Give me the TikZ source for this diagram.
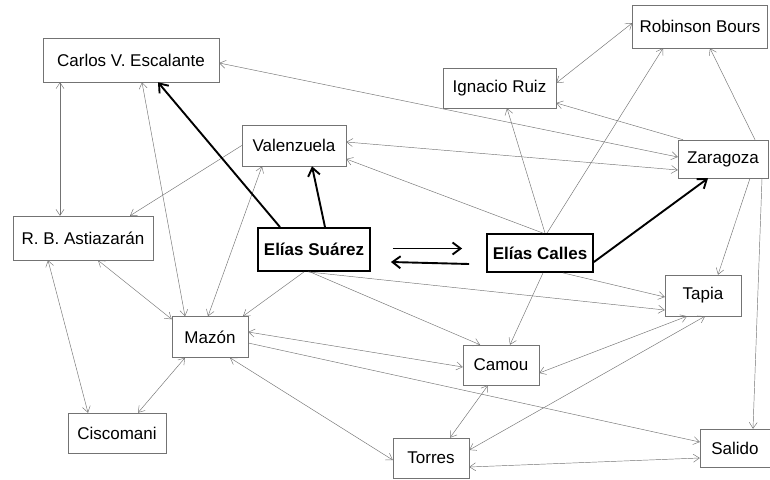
\documentclass[tikz,border=0pt]{standalone}
\usepackage{fontspec}
\setmainfont{Liberation Sans}
\usetikzlibrary{arrows.meta,calc}
\begin{document}
\begin{tikzpicture}[x=1pt,y=-1pt,
  person/.style={draw=black!55,line width=0.5pt,inner sep=0pt,minimum height=41pt,font=\fontsize{17}{19}\selectfont,text=black},
  leader/.style={draw=black,line width=1.8pt,inner sep=0pt,minimum height=41pt,font=\fontsize{17}{19}\selectfont\bfseries},
  link/.style={draw=black!55,line width=0.45pt,-{Straight Barb[length=6pt,width=8pt]}},
  blink/.style={draw=black!55,line width=0.45pt,{Straight Barb[length=6pt,width=8pt]}-{Straight Barb[length=6pt,width=8pt]}},
  power/.style={draw=black,line width=1.9pt,-{Straight Barb[length=8pt,width=12pt,line width=1.9pt]}}]
\useasboundingbox[fill=white] (0,0) rectangle (770,479);

\node[person,minimum width=176pt,minimum height=44pt] (carlos) at (131,60) {Carlos V. Escalante};
\node[person,minimum width=104pt] (val) at (294,145.5) {Valenzuela};
\node[person,minimum width=140pt,minimum height=44pt] (ast) at (83,238) {R. B. Astiazarán};
\node[leader,minimum width=112pt,minimum height=43pt] (es) at (314,249.5) {Elías Suárez};
\node[leader,minimum width=106pt,minimum height=38pt] (ec) at (540,253) {Elías Calles};
\node[person,minimum width=135pt,minimum height=43pt] (rb) at (700,26.5) {Robinson Bours};
\node[person,minimum width=113pt,minimum height=40pt] (ir) at (499.5,88) {Ignacio Ruiz};
\node[person,minimum width=90pt,minimum height=38pt] (zar) at (723,159) {Zaragoza};
\node[person,minimum width=76pt] (tapia) at (703,295.5) {Tapia};
\node[person,minimum width=76pt,minimum height=40pt] (camou) at (501,365) {Camou};
\node[person,minimum width=76pt,minimum height=40pt] (torres) at (431,458) {Torres};
\node[person,minimum width=70pt,minimum height=38pt] (salido) at (735,448) {Salido};
\node[person,minimum width=76pt] (mazon) at (210,337) {Mazón};
\node[person,minimum width=98pt,minimum height=40pt] (cisc) at (117,433) {Ciscomani};

% thin links
\draw[blink] ($(carlos.south)+(-71,0)$) -- ($(ast.north)+(-23,0)$);
\draw[blink] ($(carlos.south)+(11,0)$) -- ($(mazon.north)+(-25,0)$);
\draw[blink] ($(carlos.east)+(0,3)$) -- ($(zar.west)+(0,-2)$);
\draw[blink] ($(val.east)+(0,-3.5)$) -- ($(zar.west)+(0,11)$);
\draw[link] ($(ec.north)+(3,0)$) -- ($(val.east)+(0,13.5)$);
\draw[link] ($(zar.north)+(-40,0)$) -- ($(ir.east)+(0,15)$);
\draw[blink] ($(ir.east)+(0,-5)$) -- ($(rb.west)+(0,-3.5)$);
\draw[link] ($(zar.north)+(32,0)$) -- ($(rb.south)+(10,0)$);
\draw[link] ($(ec.north)+(5,0)$) -- ($(ir.south)+(7.5,0)$);
\draw[link] ($(ec.north)+(7,0)$) -- ($(rb.south)+(-37,0)$);
\draw[link] (val.west) -- ($(ast.north)+(47,0)$);
\draw[blink] ($(val.south)+(-32,0)$) -- ($(mazon.north)+(-2,0)$);
\draw[blink] ($(ast.south)+(15,0)$) -- ($(mazon.north west)+(0,3)$);
\draw[blink] ($(ast.south)+(-35,0)$) -- ($(cisc.north)+(-29,0)$);
\draw[blink] ($(mazon.south)+(-25,0)$) -- ($(cisc.north)+(21,0)$);
\draw[link] ($(es.south)+(-10,0)$) -- ($(mazon.north)+(33,0)$);
\draw[blink] ($(mazon.south)+(20,0)$) -- ($(torres.west)+(0,2)$);
\draw[blink] ($(mazon.east)+(0,-5)$) -- ($(camou.west)+(0,2)$);
\draw[link] ($(mazon.east)+(0,6)$) -- ($(salido.west)+(0,-6)$);
\draw[link] ($(es.south)+(-4,0)$) -- ($(camou.north)+(-21,0)$);
\draw[link] ($(es.south)+(-6,0)$) -- ($(tapia.west)+(0,14.5)$);
\draw[link] ($(ec.south)+(23,0)$) -- ($(tapia.west)+(0,1.5)$);
\draw[link] ($(ec.south)+(3,0)$) -- ($(camou.north)+(9,0)$);
\draw[blink] ($(tapia.south)+(-16,0)$) -- ($(camou.east)+(0,8)$);
\draw[blink] ($(tapia.south)+(2,0)$) -- ($(torres.east)+(0,-8)$);
\draw[blink] ($(camou.south)+(-13,0)$) -- ($(torres.north)+(19,0)$);
\draw[blink] ($(torres.east)+(0,9)$) -- ($(salido.west)+(0,10)$);
\draw[link] ($(zar.south)+(27,0)$) -- ($(tapia.north)+(15,0)$);
\draw[link] ($(zar.south)+(39,0)$) -- ($(salido.north)+(18,0)$);

% thick links
\draw[power] ($(ec.east)+(0,9)$) -- ($(zar.south)+(-15,0)$);
\draw[power] ($(es.north)+(-34,0)$) -- ($(carlos.south)+(27,0)$);
\draw[power] ($(es.north)+(11,0)$) -- ($(val.south)+(18,0)$);
\draw[power] ($(es.east)+(22,-1)$) -- ($(ec.west)+(-24,-4.5)$);
\draw[power] ($(ec.west)+(-17,11)$) -- ($(es.east)+(20,12.5)$);
\end{tikzpicture}
\end{document}
